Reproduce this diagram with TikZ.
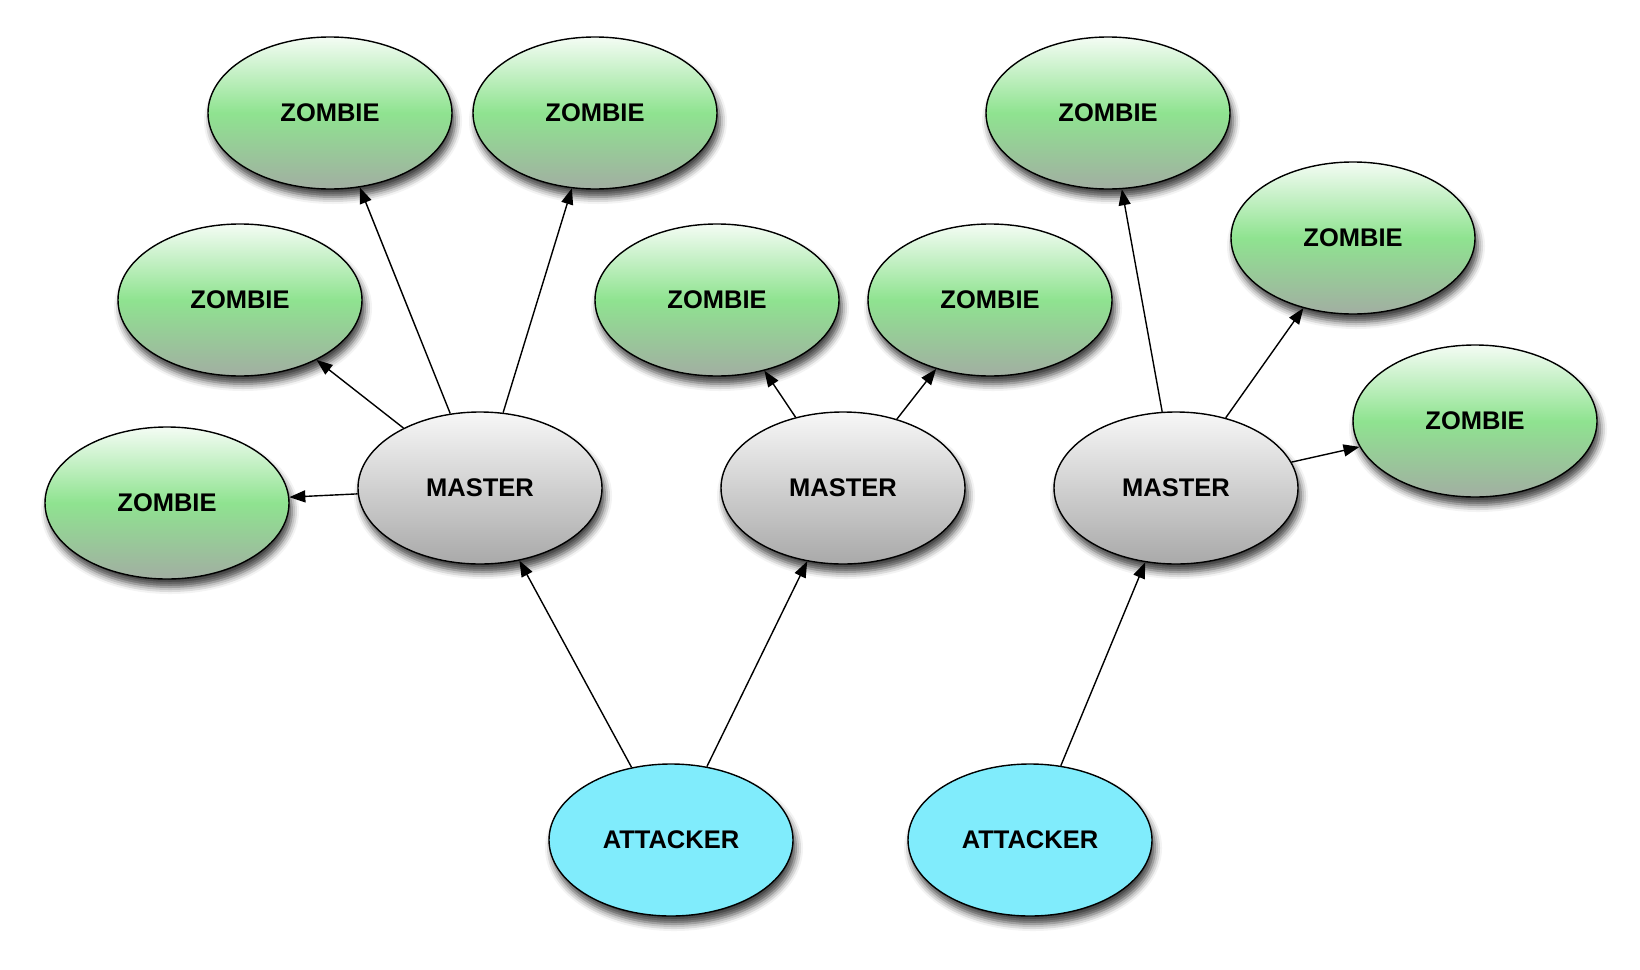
\documentclass[tikz,border=0pt]{standalone}
\usepackage{fontspec}
\newfontfamily\labelfont{Liberation Sans}
\usetikzlibrary{arrows.meta, shapes.geometric, shadows.blur}

\definecolor{zombietop}{HTML}{F4FCF4}
\definecolor{zombiemid}{HTML}{8FE390}
\definecolor{zombiebot}{HTML}{A2AEA2}
\definecolor{mastertop}{HTML}{F7F7F7}
\definecolor{masterbot}{HTML}{A9A9A9}
\definecolor{attackfill}{HTML}{80ECFC}

\begin{document}
\begin{tikzpicture}[x=1pt, y=-1pt, >={Triangle[length=16pt, width=12pt]},
  blob/.style={ellipse, draw, line width=1.4pt, minimum width=244pt, minimum height=152pt, inner sep=0pt,
    font=\labelfont\bfseries\fontsize{25.5}{30}\selectfont,
    blur shadow={shadow xshift=3pt, shadow yshift=-8pt, shadow blur radius=7pt, shadow opacity=75}},
  zombie/.style={blob, top color=zombietop, bottom color=zombiebot, middle color=zombiemid},
  master/.style={blob, top color=mastertop, bottom color=masterbot},
  attacker/.style={blob, fill=attackfill},
  link/.style={->, line width=1.4pt}]
\useasboundingbox (0,0) rectangle (1640,969);
% zombies
\node[zombie] (z1) at (330,113) {ZOMBIE};
\node[zombie] (z2) at (595,113) {ZOMBIE};
\node[zombie] (z3) at (240,300) {ZOMBIE};
\node[zombie] (z4) at (167,503) {ZOMBIE};
\node[zombie] (z5) at (717,300) {ZOMBIE};
\node[zombie] (z6) at (990,300) {ZOMBIE};
\node[zombie] (z7) at (1108,113) {ZOMBIE};
\node[zombie] (z8) at (1353,238) {ZOMBIE};
\node[zombie] (z9) at (1475,421) {ZOMBIE};
% masters
\node[master] (m1) at (480,488) {MASTER};
\node[master] (m2) at (843,488) {MASTER};
\node[master] (m3) at (1176,488) {MASTER};
% attackers
\node[attacker] (a1) at (671,840) {ATTACKER};
\node[attacker] (a2) at (1030,840) {ATTACKER};

\draw[link] (m1) -- (z1);
\draw[link] (m1) -- (z2);
\draw[link] (m1) -- (z3);
\draw[link] (m1) -- (z4);
\draw[link] (m2) -- (z5);
\draw[link] (m2) -- (z6);
\draw[link] (m3) -- (z7);
\draw[link] (m3) -- (z8);
\draw[link] (m3) -- (z9);
\draw[link] (a1) -- (m1);
\draw[link] (a1) -- (m2);
\draw[link] (a2) -- (m3);
\end{tikzpicture}
\end{document}
